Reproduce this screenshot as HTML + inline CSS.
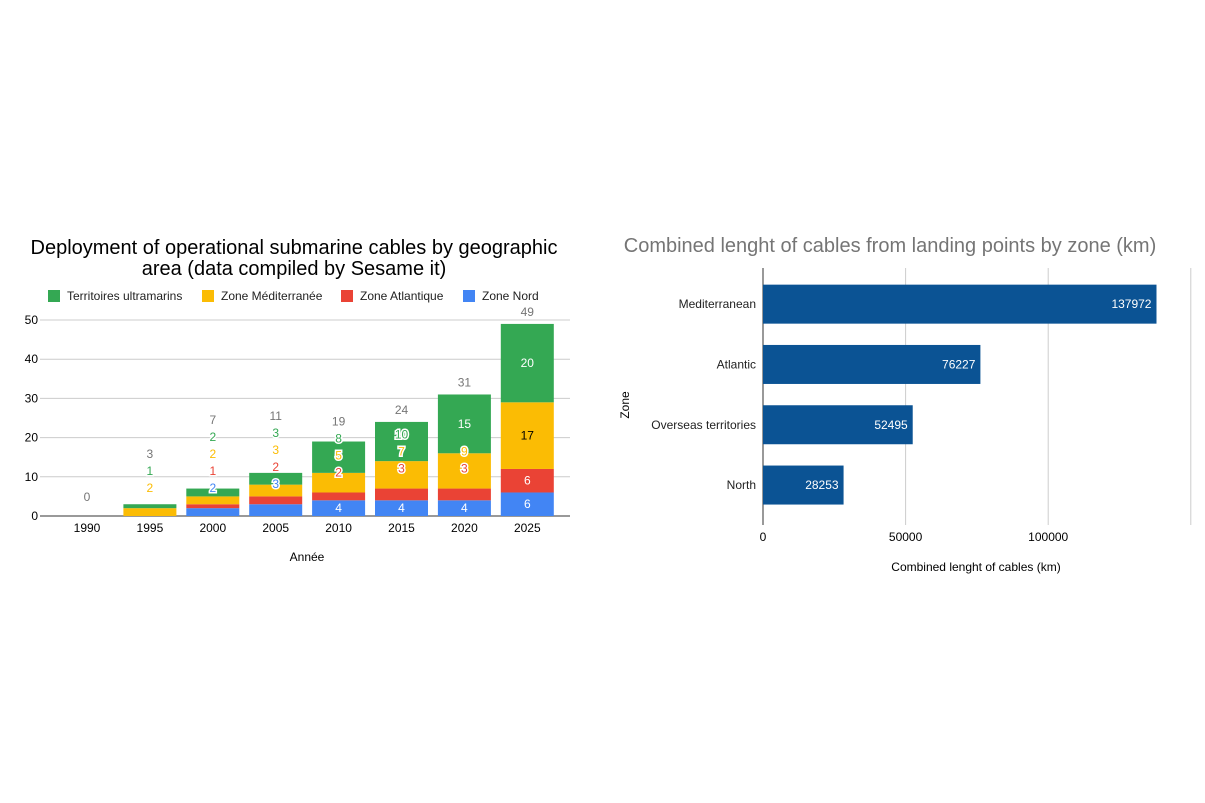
<!DOCTYPE html>
<html><head><meta charset="utf-8"><style>
body{margin:0;background:#fff;font-family:"Liberation Sans",Arial,sans-serif}
svg{display:block}
</style></head><body>
<svg id="s" width="1205" height="803" font-family="Liberation Sans, Arial, sans-serif">
<text x="294" y="254" font-size="20" text-anchor="middle" fill="#000">Deployment of operational submarine cables by geographic</text>
<text x="294" y="275" font-size="20" text-anchor="middle" fill="#000">area (data compiled by Sesame it)</text>
<g id="legend" font-size="12" fill="#222"></g>
<g id="left"></g>
<g id="leftLabels"></g>
<text x="307" y="561" font-size="12" text-anchor="middle">Année</text>
<text x="890" y="252" font-size="20" text-anchor="middle" fill="#757575">Combined lenght of cables from landing points by zone (km)</text>
<g id="right"></g>
<text x="976" y="571" font-size="12" text-anchor="middle">Combined lenght of cables (km)</text>
<text transform="translate(629,405) rotate(-90)" font-size="12" text-anchor="middle">Zone</text>
</svg>
<script>
const NS="http://www.w3.org/2000/svg";
function mk(p,t,a,txt){const e=document.createElementNS(NS,t);for(const k in a)e.setAttribute(k,a[k]);if(txt!==undefined)e.textContent=txt;p.appendChild(e);return e;}
const years=["1990","1995","2000","2005","2010","2015","2020","2025"];
const nord=[0,0,2,3,4,4,4,6];
const atlantique=[0,0,1,2,2,3,3,6];
const mediterranee=[0,2,2,3,5,7,9,17];
const territoires=[0,1,2,3,8,10,15,20];
const yTicks=[0,10,20,30,40,50];
const seriesNames=["Territoires ultramarins","Zone Méditerranée","Zone Atlantique","Zone Nord"];
const seriesColors=["#34a853","#fbbc04","#ea4335","#4285f4"];
const zones=["Mediterranean","Atlantic","Overseas territories","North"];
const lengths=[137972,76227,52495,28253];
const xTicks=[0,50000,100000];

const L=document.getElementById('left');
const LL=document.getElementById('leftLabels');
const y0=516,ppu=3.92;
const Y=v=>y0-v*ppu;
const X=i=>87+i*62.9;
yTicks.forEach(t=>{
  const g=mk(L,'line',{x1:40,x2:570,y1:Y(t),y2:Y(t),stroke:t?'#ccc':'#333','stroke-width':1});
  
  
  const tx=mk(L,'text',{x:38,y:Y(t)+4,'font-size':12,'text-anchor':'end'},String(t));
  
  
});
const lg=document.getElementById('legend');
const lx=[48,202,341,463];
seriesNames.forEach((n,i)=>{
  const r=mk(lg,'rect',{x:lx[i],y:290,width:12,height:12,fill:seriesColors[i]});
  
  
  const t=mk(lg,'text',{x:lx[i]+19,y:300},n);
  
  
});
const stack=[nord,atlantique,mediterranee,territoires];
const cols=["#4285f4","#ea4335","#fbbc04","#34a853"];
years.forEach((yr,i)=>{
  const cx=X(i);
  let base=0,prev=1e9;
  stack.forEach((s,k)=>{
    const v=s[i];
    if(v>0){
      const r=mk(L,'rect',{x:cx-26.5,y:Y(base+v),width:53,height:v*ppu,fill:cols[k]});
      
      
      const small=v*ppu<14;
      const c=Y(base+v/2);
      const ly=small?Math.min(prev-17,Y(base+v)-20):Math.min(c,prev-17);
      const pushed=ly<c-1;
      prev=ly;
      const t=mk(LL,'text',{x:cx,y:ly+4,'font-size':12,'text-anchor':'middle',fill:pushed?cols[k]:(k==2&&v>12?'#000':'#fff')},String(v));
      if(pushed){t.setAttribute('stroke','#fff');t.setAttribute('stroke-width','3');t.setAttribute('paint-order','stroke');}
      
      
    }
    base+=v;
  });
  const tot=base;
  const ty=Math.min(Y(tot)-12,prev-17);
  const t=mk(LL,'text',{x:cx,y:(tot?ty:Y(0)-19)+4,'font-size':12,'text-anchor':'middle',fill:'#757575'},String(tot));
  
  
  const xl=mk(L,'text',{x:cx,y:532,'font-size':12,'text-anchor':'middle'},yr);
  
  
});
const R=document.getElementById('right');
const x0=763,ppk=0.002852;
const XR=v=>x0+v*ppk;
[50000,100000,150000].forEach(t=>{
  const g=mk(R,'line',{x1:XR(t),x2:XR(t),y1:268,y2:525,stroke:'#ccc'});
  
  
});
mk(R,'line',{x1:x0,x2:x0,y1:268,y2:525,stroke:'#333'});
xTicks.forEach(t=>{
  const tx=mk(R,'text',{x:XR(t),y:541,'font-size':12,'text-anchor':'middle'},String(t));
  
  
});
const rowH=60.3,rowTop=274;
zones.forEach((z,i)=>{
  const yc=rowTop+rowH*(i+0.5);
  const r=mk(R,'rect',{x:x0,y:yc-19.5,width:lengths[i]*ppk,height:39,fill:'#0b5394'});
  
  
  const t=mk(R,'text',{x:XR(lengths[i])-5,y:yc+4,'font-size':12,'text-anchor':'end',fill:'#fff'},String(lengths[i]));
  
  
  const c=mk(R,'text',{x:756,y:yc+4,'font-size':12,'text-anchor':'end',fill:'#222'},z);
  
  
});
</script>
</body></html>
